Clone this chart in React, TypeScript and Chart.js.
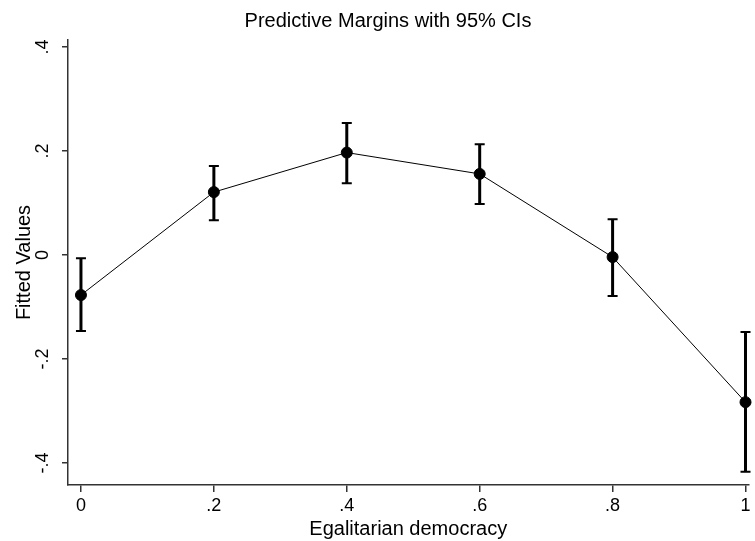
import React, { useEffect, useRef } from "react";
import { Chart, registerables } from "chart.js";

Chart.register(...registerables);

const xValues = [0, 0.2, 0.4, 0.6, 0.8, 1];
const fitted = [-0.077, 0.121, 0.197, 0.156, -0.004, -0.283];
const ciLower = [-0.146, 0.067, 0.138, 0.098, -0.079, -0.417];
const ciUpper = [-0.006, 0.171, 0.254, 0.213, 0.069, -0.148];
const xTicks = [0, 0.2, 0.4, 0.6, 0.8, 1];
const xTickLabels = ["0", ".2", ".4", ".6", ".8", "1"];
const yTicks = [-0.4, -0.2, 0, 0.2, 0.4];
const yTickLabels = ["-.4", "-.2", "0", ".2", ".4"];
const titleText = "Predictive Margins with 95% CIs";

const FONT = "'Liberation Sans', Arial, Helvetica, sans-serif";

const errorBarPlugin = {
  id: "errorBars",
  beforeDatasetsDraw(chart: any) {
    const { ctx, scales } = chart;
    const xs = scales.x;
    const ys = scales.y;
    ctx.save();
    ctx.strokeStyle = "#000";
    xValues.forEach((xv, i) => {
      const px = xs.getPixelForValue(xv);
      const top = ys.getPixelForValue(ciUpper[i]);
      const bot = ys.getPixelForValue(ciLower[i]);
      ctx.lineWidth = 3;
      ctx.beginPath();
      ctx.moveTo(px, top);
      ctx.lineTo(px, bot);
      ctx.stroke();
      ctx.lineWidth = 2;
      ctx.beginPath();
      ctx.moveTo(px - 5, top);
      ctx.lineTo(px + 5, top);
      ctx.moveTo(px - 5, bot);
      ctx.lineTo(px + 5, bot);
      ctx.stroke();
    });
    ctx.restore();
  },
};

const textPlugin = {
  id: "extraText",
  afterDraw(chart: any) {
    const { ctx, scales } = chart;
    const ys = scales.y;
    ctx.save();
    ctx.fillStyle = "#000";
    // title
    ctx.font = `20px ${FONT}`;
    ctx.textAlign = "center";
    ctx.textBaseline = "alphabetic";
    ctx.fillText(titleText, 388, 27);
    // rotated y tick labels
    ctx.font = `18px ${FONT}`;
    ctx.textBaseline = "middle";
    yTicks.forEach((v, i) => {
      const py = ys.getPixelForValue(v);
      ctx.save();
      ctx.translate(43, py);
      ctx.rotate(-Math.PI / 2);
      ctx.fillText(yTickLabels[i], 0, 0);
      ctx.restore();
    });
    ctx.restore();
  },
};

export default function App() {
  const ref = useRef<HTMLCanvasElement | null>(null);

  useEffect(() => {
    document.body.style.margin = "0";
    const canvas = ref.current;
    if (!canvas) return;
    const chart = new Chart(canvas, {
      type: "scatter",
      data: {
        datasets: [
          {
            data: xValues.map((x, i) => ({ x, y: fitted[i] })),
            showLine: true,
            borderColor: "#000",
            borderWidth: 1,
            backgroundColor: "#000",
            pointBackgroundColor: "#000",
            pointBorderColor: "#000",
            pointRadius: 5.5,
            clip: false as any,
          },
        ],
      },
      options: {
        animation: false,
        responsive: false,
        maintainAspectRatio: false,
        layout: { padding: { left: 0, right: 3, top: 40, bottom: 0 } },
        plugins: {
          legend: { display: false },
          tooltip: { enabled: false },
          title: { display: false },
        },
        scales: {
          x: {
            type: "linear",
            min: -0.0195,
            max: 1.0045,
            afterBuildTicks: (scale: any) => {
              scale.ticks = xTicks.map((v) => ({ value: v }));
            },
            afterFit: (scale: any) => {
              scale.height = 56;
            },
            ticks: {
              color: "#000",
              font: { family: FONT, size: 18 },
              padding: 3,
              maxRotation: 0,
              autoSkip: false,
              callback: (v: any) => {
                const idx = xTicks.findIndex((t) => Math.abs(t - v) < 1e-9);
                return idx >= 0 ? xTickLabels[idx] : "";
              },
            },
            grid: {
              display: true,
              drawOnChartArea: false,
              drawTicks: true,
              tickLength: 7,
              color: "#333",
              lineWidth: 1.5,
            },
            border: { display: true, color: "#333", width: 1.5 },
            title: {
              display: true,
              text: "Egalitarian democracy",
              color: "#000",
              font: { family: FONT, size: 20 },
              padding: { top: 0, bottom: 0 },
            },
          },
          y: {
            type: "linear",
            min: -0.4423,
            max: 0.4135,
            afterBuildTicks: (scale: any) => {
              scale.ticks = yTicks.map((v) => ({ value: v }));
            },
            afterFit: (scale: any) => {
              scale.width = 68;
            },
            ticks: { display: false },
            grid: {
              display: true,
              drawOnChartArea: false,
              drawTicks: true,
              tickLength: 6,
              color: "#333",
              lineWidth: 1.5,
            },
            border: { display: true, color: "#333", width: 1.5 },
            title: {
              display: true,
              text: "Fitted Values",
              color: "#000",
              font: { family: FONT, size: 20 },
              padding: { top: 12, bottom: 0 },
            },
          },
        },
      },
      plugins: [errorBarPlugin, textPlugin],
    });
    return () => chart.destroy();
  }, []);

  return (
    <div style={{ width: 755, height: 541, background: "#fff" }}>
      <canvas ref={ref} width={755} height={541} style={{ display: "block" }} />
    </div>
  );
}
